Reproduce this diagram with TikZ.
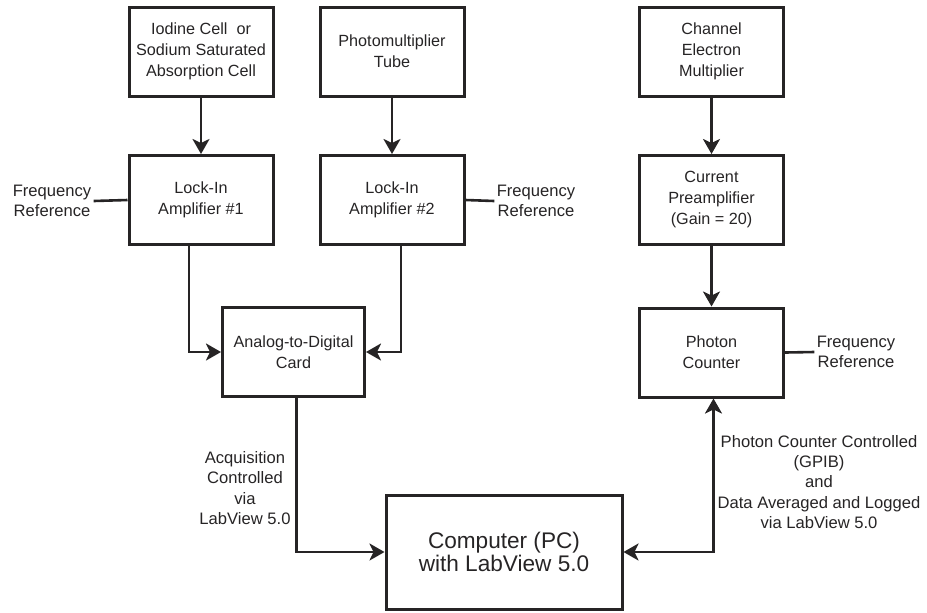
\documentclass[tikz,border=0pt]{standalone}
\usepackage{fontspec}
\setmainfont{Liberation Sans}
\usetikzlibrary{arrows.meta}
\definecolor{ink}{RGB}{38,36,37}
\begin{document}
\begin{tikzpicture}[x=0.5pt, y=-0.5pt, >={Stealth[length=7.5pt,width=8.5pt,inset=2pt]},
	block/.style={draw=ink, line width=1.5pt, minimum width=72pt, minimum height=44.5pt, align=center, font=\fontsize{8.1}{10.5}\selectfont, text=ink, inner sep=0pt},
	lbl/.style={align=center, font=\fontsize{8.3}{10.2}\selectfont, text=ink, inner sep=1pt},
	wire/.style={draw=ink, line width=1.3pt}]
	\useasboundingbox (0,0) rectangle (927,612);
	\node[block] (iodine) at (201,51.5) {Iodine Cell\ \ or\\Sodium Saturated\\Absorption Cell};
	\node[block] (pmt) at (392,51.5) {Photomultiplier\\Tube};
	\node[block] (cem) at (711.5,51.5) {Channel\\Electron\\Multiplier};
	\node[block] (lockA) at (201,200) {Lock-In\\Amplifier \#1};
	\node[block] (lockB) at (392,200) {Lock-In\\Amplifier \#2};
	\node[block] (preamp) at (711.5,200) {Current\\Preamplifier\\(Gain = 20)};
	\node[block, minimum width=71pt] (adc) at (293.5,352) {Analog-to-Digital\\Card};
	\node[block] (counter) at (711.5,352.5) {Photon\\Counter};
	\node[block, minimum width=118pt, minimum height=57pt, font=\fontsize{11.3}{11.5}\selectfont] (pc) at (504,552) {Computer (PC)\\with LabView 5.0};
	\draw[wire, ->] (iodine) -- (lockA);
	\draw[wire, ->] (pmt) -- (lockB);
	\draw[wire, ->] (cem) -- (preamp);
	\draw[wire, ->] (preamp) -- (counter);
	\draw[wire, ->] ([xshift=-6pt]lockA.south) |- (adc.west);
	\draw[wire, ->] ([xshift=4.5pt]lockB.south) |- (adc.east);
	\draw[wire, ->] ([xshift=1.5pt]adc.south) |- (pc.west);
	\draw[wire, <->] ([xshift=1pt]counter.south) |- (pc.east);
	\node[lbl] (frefA) at (52,201) {Frequency\\Reference};
	\node[lbl] (frefB) at (536,201) {Frequency\\Reference};
	\node[lbl] (frefC) at (856,352) {Frequency\\Reference};
	\draw[wire] (lockA.west) -- (frefA.east);
	\draw[wire] (lockB.east) -- (frefB.west);
	\draw[wire] (counter.east) -- (frefC.west);
	\node[lbl] (acq) at (245,488) {Acquisition\\Controlled\\via\\LabView 5.0};
	\node[lbl] (gpib) at (819,482) {Photon Counter Controlled\\(GPIB)\\and\\Data Averaged and Logged\\via LabView 5.0};
\end{tikzpicture}
\end{document}
